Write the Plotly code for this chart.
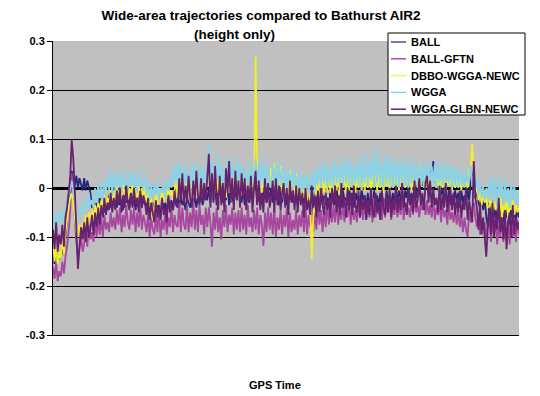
import plotly.graph_objects as go

# Series values in millimetres (300 samples across GPS time)
BALL_MM = [
    -130, -155, -125, -150, -140, -145, -120, -135, -100, -60, -20, 10, 35, 20, 5, 25, 0, 20, 10, -5,
    20, -5, 15, 0, -10, -40, -25, -50, -30, -45, -20, -40, -30, -50, -25, -45, -15, -40, -20, -35,
    -15, -40, -10, -35, -25, -45, -5, -30, -20, -40, -10, -35, -25, -45, -15, -30, -5, -40, -20, -35,
    -25, -50, -20, -45, -30, -55, -20, -40, -35, -60, -25, -45, -30, -50, -20, -40, -25, -45, -15, -35,
    -20, -40, -15, -35, -25, -45, -20, -30, -40, -25, -35, -15, -40, -20, -30, -10, -35, -20, -5, -25,
    0, -30, 10, -25, 5, -35, 15, -20, 0, -30, 5, -25, 10, -35, 0, -20, -30, 5, -25, 0,
    5, -30, 0, -35, 10, -20, -30, 0, -25, 5, 10, -30, -15, -35, 0, -25, 5, -30, -10, -20,
    0, -30, 5, -25, -10, -35, 0, -30, -5, -20, -35, 0, -25, -10, -30, 5, -20, -35, -5, -25,
    -10, -35, -5, -40, -15, -30, -20, -45, -5, -30, -15, -40, -10, -35, 0, -25, -20, -40, -5, -30,
    -5, -35, 0, -30, -15, -40, -5, -25, -20, -35, 0, -30, -10, -40, -5, -25, -15, -35, 0, -25,
    -15, -40, -10, -35, -20, -45, -5, -30, -15, -40, -10, -35, -20, -45, -5, -30, -15, -35, -10, -30,
    -5, -30, 0, -25, -10, -35, -5, -20, 5, -30, -10, -25, 0, -20, 10, -15, 20, 5, 30, 10,
    20, 0, 35, 15, 55, 10, 30, -5, 20, -15, 0, -25, -10, -30, -5, -35, -15, -30, -5, -25,
    -10, -40, -5, -30, -15, -35, 0, -25, 10, 30, 5, -20, 0, -30, -40, -15, -45, -20, -60, -80,
    -30, -70, -25, -60, -40, -75, -30, -65, -45, -70, -35, -60, -50, -75, -40, -65, -45, -70, -40, -60,
]

BALL_GFTN_MM = [
    -160, -185, -150, -190, -170, -180, -150, -175, -140, -120, -90, -50, 30, -20, -60, -110, -145, -120, -100, -130,
    -115, -80, -120, -75, -105, -90, -110, -70, -100, -65, -95, -60, -100, -55, -85, -70, -90, -50, -80, -60,
    -85, -45, -75, -40, -90, -55, -80, -35, -70, -85, -45, -75, -40, -90, -50, -80, -35, -85, -55, -70,
    -90, -50, -100, -60, -85, -95, -55, -90, -45, -100, -65, -85, -50, -95, -60, -80, -40, -90, -55, -75,
    -80, -30, -90, -40, -75, -85, -35, -90, -50, -80, -25, -85, -45, -90, -35, -75, -55, -95, -40, -80,
    -40, -70, -120, -50, -85, -40, -90, -60, -105, -45, -80, -35, -90, -55, -75, -40, -95, -50, -85, -45,
    -90, -40, -85, -55, -95, -35, -80, -60, -90, -45, -85, -40, -95, -55, -75, -118, -50, -90, -40, -85,
    -50, -95, -40, -100, -60, -85, -45, -95, -55, -80, -40, -100, -50, -90, -65, -85, -45, -95, -55, -80,
    -45, -90, -35, -95, -55, -80, -40, -90, -50, -85, -35, -75, -45, -90, -40, -80, -30, -75, -50, -70,
    -35, -70, -25, -75, -45, -65, -30, -70, -40, -60, -25, -75, -35, -65, -45, -70, -30, -60, -40, -65,
    -30, -65, -25, -60, -40, -70, -20, -60, -35, -55, -30, -65, -20, -60, -40, -50, -25, -65, -35, -55,
    -25, -60, -35, -55, -20, -65, -30, -50, -40, -60, -25, -55, -20, -50, -35, -60, -30, -45, -20, -55,
    -25, -55, -35, -60, -20, -65, -40, -55, -30, -70, -35, -60, -45, -75, -30, -65, -50, -70, -40, -75,
    -45, -80, -55, -90, -60, -85, -100, -50, -70, -40, -30, -60, -80, -55, -95, -65, -85, -70, -100, -75,
    -60, -110, -70, -95, -65, -115, -75, -100, -60, -110, -80, -95, -65, -115, -70, -100, -75, -110, -65, -95,
]

DBBO_WGGA_NEWC_MM = [
    -110, -150, -120, -155, -130, -145, -100, -135, -90, -60, -40, -20, -10, -30, -60, -90, -100, -75, -95, -70,
    -85, -55, -80, -50, -70, -45, -65, -35, -55, -30, -50, -25, -40, -15, -35, -20, -30, -5, -25, -10,
    -25, 5, -20, 0, -30, 10, -15, -5, -25, 0, -10, 5, -20, 0, -30, 5, -15, 0, -25, 10,
    -30, 0, -40, -20, -65, -30, -10, -35, 0, -25, -5, -30, 0, -20, 5, -15, -5, -25, 0, 15,
    -20, 20, -10, 25, -15, 10, -25, 20, -5, 15, -20, 25, -10, 15, -15, 20, -20, 10, -10, 20,
    35, -15, 25, -20, 30, -10, 20, -25, 35, -5, 15, -20, 30, -10, 25, -15, 20, -5, 30, -20,
    25, -15, 20, -10, 30, -20, 15, -5, 25, -15, 268, 20, -20, 25, -10, 30, -15, 20, -5, 15,
    40, -10, 50, -15, 35, -5, 45, -20, 30, -10, 25, -15, 35, -5, 20, -20, 30, -10, 15, -25,
    15, -20, 10, -30, 5, -25, -145, -60, -15, 10, -20, 25, -10, 20, -15, 15, -5, 25, -10, 20,
    -10, 25, -5, 35, -15, 30, 0, 25, -10, 35, -5, 30, 5, 20, -10, 30, 0, 35, -5, 25,
    -5, 30, 0, 40, -10, 25, 5, 45, -5, 30, 0, 35, -10, 40, 5, 25, -5, 45, 0, 30,
    0, 35, -5, 30, 10, 45, 0, 50, 5, 40, -5, 35, 10, 45, 0, 55, 5, 40, 0, 35,
    0, 30, -5, 25, 5, 35, 0, 20, -10, 25, 0, 30, -5, 20, 5, 25, -5, 30, 0, 25,
    0, 25, -5, 30, 5, 20, 0, 35, 40, 90, 30, -15, 10, -25, -5, -35, -10, -30, -20, -40,
    -40, -15, -50, -20, -45, -25, -55, -15, -65, -30, -50, -20, -60, -35, -45, -25, -55, -30, -50, -40,
]

WGGA_MM = [
    -55, -80, -45, -75, -60, -50, -70, -40, -45, -25, -15, 0, 15, -10, -30, -50, -65, -40, -55, -30,
    -50, -20, -45, -10, -35, -25, -40, 0, -30, 10, -20, 5, -25, 20, -10, 25, -5, 35, -15, 30,
    -5, 35, 0, 25, -10, 40, 5, 20, -5, 30, 10, 35, 0, 25, -10, 40, 5, 15, -5, 30,
    -15, 15, -25, 10, -20, 5, -15, 20, -25, 0, -10, 15, -20, 10, -5, 25, 0, 40, 10, 50,
    5, 55, 15, 40, 0, 50, 10, 30, -5, 45, 5, 55, 15, 35, 0, 50, 10, 40, 5, 30,
    95, 10, 60, 0, 45, 15, 70, 5, 50, -5, 40, 10, 65, 0, 55, 10, 45, 0, 60, 5,
    50, 0, 45, 10, 35, -5, 55, 5, 40, 0, 60, 10, 45, 0, 65, 5, 40, 0, 50, 10,
    0, 50, 10, 45, -5, 55, 5, 40, 0, 35, -10, 45, 5, 30, -5, 40, 0, 25, -10, 35,
    -10, 25, -5, 30, -15, 20, 0, 35, -10, 40, 5, 45, 0, 50, 10, 55, 0, 40, 5, 50,
    0, 60, 10, 45, 5, 55, 0, 65, 10, 50, 5, 60, 0, 45, 10, 55, 5, 65, 0, 50,
    10, 70, 5, 55, 15, 75, 0, 60, 10, 85, 5, 50, 0, 65, 10, 60, 5, 70, 0, 55,
    5, 60, 0, 50, 10, 65, 5, 55, 0, 45, 10, 60, 0, 50, 5, 55, 10, 45, 0, 50,
    10, 55, 0, 45, 5, 50, 0, 60, 10, 40, 5, 55, 0, 45, 10, 50, 0, 40, 5, 45,
    0, 40, 5, 30, 0, 35, 10, 25, 45, 5, 30, 0, 20, -15, 15, -20, 5, -25, 0, -15,
    20, -25, 30, -30, 15, -40, 25, -20, 10, -35, 20, -30, 0, -40, 15, -25, 5, -35, -5, -30,
]

WGGA_GLBN_NEWC_MM = [
    -85, -125, -70, -130, -95, -115, -75, -120, -60, -40, -10, 20, 98, 60, -5, -90, -165, -120, -80, -105,
    -70, -110, -60, -100, -85, -55, -95, -50, -80, -40, -75, -35, -60, -20, -55, -30, -45, -10, -50, -20,
    -45, -5, -35, 0, -50, -15, -40, 5, -30, -45, -10, -40, 0, -35, -20, -50, -5, -40, -15, -30,
    -55, -20, -65, -30, -50, -70, -25, -60, -35, -65, -20, -55, -40, -70, -15, -50, -30, -45, -5, -35,
    -40, 20, -25, 30, -35, 5, -30, 25, -20, -40, 15, -25, 35, -15, -35, 20, -30, 10, -25, 25,
    70, -40, 30, -30, 45, -20, -45, 25, -35, 10, -50, 40, -10, 55, -30, 20, -45, 35, -25, 15,
    -40, 30, -20, 20, -45, 5, -30, 25, -50, 0, 35, -35, 15, -45, -10, -50, 20, -30, 10, -40,
    -20, 15, -50, 20, -35, 5, -45, -10, 10, -40, 0, -55, 15, -30, -5, -45, 5, -50, 0, -35,
    -10, -60, 0, -45, -25, -55, 5, -40, -15, -60, -5, -50, 0, -35, -55, -10, -45, -20, -60, 0,
    -35, 5, -50, -15, -55, 10, -40, -20, -60, 0, -45, -10, -55, 5, -35, -50, -5, -60, -20, -45,
    -15, -65, -25, -55, 0, -45, -60, -10, -50, -30, -65, -5, -40, -55, -15, -50, 0, -60, -25, -45,
    5, -50, -20, -45, 10, -40, -30, -55, 0, -35, -15, -50, 15, -40, -25, 20, -35, -10, -45, 10,
    25, -30, 15, -40, 0, -35, -20, -50, 5, -45, -15, -40, 10, -50, -25, 0, -45, -10, -55, -20,
    -50, -5, -60, -30, -45, 0, -65, -25, -50, -70, 55, -20, -40, -85, -30, -95, -60, -110, -140, -80,
    -40, -95, -30, -100, -55, -85, -20, -90, -60, -105, -45, -125, -70, -50, -100, -35, -95, -60, -85, -70,
]

SERIES_NAMES = ["BALL", "BALL-GFTN", "DBBO-WGGA-NEWC", "WGGA", "WGGA-GLBN-NEWC"]
SERIES_MM = [BALL_MM, BALL_GFTN_MM, DBBO_WGGA_NEWC_MM, WGGA_MM, WGGA_GLBN_NEWC_MM]
SERIES_COLORS = ["#27277A", "#A8479F", "#F2EE2E", "#8CD2E6", "#66226F"]
LEGEND_COLORS = ["#4A4A9A", "#C040C0", "#F4F060", "#8CD2E6", "#602080"]

Y_TICKS = [-0.3, -0.2, -0.1, 0.0, 0.1, 0.2, 0.3]
Y_TICK_LABELS = ["-0.3", "-0.2", "-0.1", "0", "0.1", "0.2", "0.3"]

TITLE_LINE1 = "Wide-area trajectories compared to Bathurst AIR2"
TITLE_LINE2 = "(height only)"
X_TITLE = "GPS Time"

FONT = "Liberation Sans, Arial, sans-serif"

# The page body adds an 8 px offset; plot-area geometry (figure pixels)
OFF = 8
PL, PR, PT, PB = 53 - OFF, 519 - OFF, 41 - OFF, 335 - OFF


def px_x(px):
    return (px - OFF - PL) / (PR - PL)


def px_y(py):
    return (PB - (py - OFF)) / (PB - PT)


fig = go.Figure()
n_max = max(len(v) for v in SERIES_MM)
for name, vals, col in zip(SERIES_NAMES, SERIES_MM, SERIES_COLORS):
    fig.add_trace(go.Scatter(
        x=list(range(len(vals))), y=[v / 1000.0 for v in vals],
        mode="lines", name=name,
        line=dict(color=col, width=1.8), showlegend=False,
    ))

shapes = [dict(type="rect", xref="paper", yref="paper",
               x0=px_x(388), x1=px_x(525), y0=px_y(115), y1=px_y(33),
               fillcolor="white", line=dict(color="black", width=1), layer="above")]
annotations = []
for i, (name, col) in enumerate(zip(SERIES_NAMES, LEGEND_COLORS)):
    yy = px_y(42 + i * 16.8)
    shapes.append(dict(type="line", xref="paper", yref="paper",
                       x0=px_x(391), x1=px_x(406), y0=yy, y1=yy,
                       line=dict(color=col, width=1.5), layer="above"))
    annotations.append(dict(text="<b>%s</b>" % name, xref="paper", yref="paper",
                            x=px_x(409), y=yy, xanchor="left", yanchor="middle",
                            showarrow=False,
                            font=dict(family=FONT, size=11, color="black")))

annotations.append(dict(text="<b>%s</b>" % X_TITLE, xref="paper", yref="paper",
                        x=px_x(275), y=px_y(385), xanchor="center", yanchor="middle",
                        showarrow=False, font=dict(family=FONT, size=11, color="black")))
# second title line sits slightly left of the first, as in the reference
annotations.append(dict(text="<b>%s</b>" % TITLE_LINE2, xref="paper", yref="paper",
                        x=px_x(234), y=px_y(34.5), xanchor="center", yanchor="middle",
                        showarrow=False, font=dict(family=FONT, size=13.5, color="black")))

fig.update_layout(
    width=540, height=396,
    margin=dict(l=PL, r=540 - PR, t=PT, b=396 - PB, autoexpand=False),
    paper_bgcolor="white",
    plot_bgcolor="#C0C0C0",
    font=dict(family=FONT, size=11, color="black"),
    title=dict(
        text="<b>%s</b>" % TITLE_LINE1,
        x=(261 - OFF) / 540, xref="container", xanchor="center",
        y=1 - (15.5 - OFF) / 396, yref="container", yanchor="middle",
        font=dict(family=FONT, size=13.5, color="black"),
    ),
    showlegend=False,
    shapes=shapes,
    annotations=annotations,
)

fig.update_xaxes(
    range=[0, n_max - 1], automargin=False,
    showgrid=False, zeroline=False,
    showticklabels=False, ticks="",
    showline=True, linecolor="black", linewidth=1, mirror=False,
)
fig.update_yaxes(
    range=[-0.3, 0.3], automargin=False,
    tickvals=Y_TICKS, ticktext=["<b>%s</b>" % t for t in Y_TICK_LABELS],
    ticks="outside", ticklen=5, tickcolor="black", tickwidth=1,
    showgrid=True, gridcolor="black", gridwidth=1,
    zeroline=True, zerolinecolor="black", zerolinewidth=3,
    showline=True, linecolor="black", linewidth=1,
    tickfont=dict(family=FONT, size=11, color="black"),
)

fig.write_html("out.html")
